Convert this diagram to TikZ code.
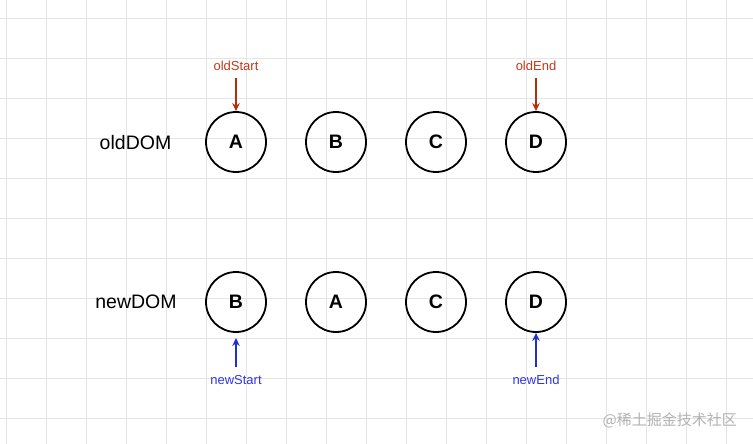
\documentclass[tikz,border=0pt]{standalone}
\usepackage{fontspec}
\setmainfont{Liberation Sans}
\newfontfamily\cjkfont{Noto Sans CJK SC}
\usetikzlibrary{arrows.meta}
\definecolor{gridc}{HTML}{E5E5E5}
\definecolor{redarrow}{HTML}{B0300E}
\definecolor{redtext}{HTML}{C0391B}
\definecolor{bluearrow}{HTML}{2030D0}
\definecolor{bluetext}{HTML}{3535E0}
\tikzset{
  gridline/.style={draw=gridc, line width=0.8pt},
  domnode/.style={circle, draw=black, line width=1.8pt, minimum size=60pt, inner sep=0pt,
    font=\fontsize{19.5}{20}\selectfont\bfseries},
  rowlabel/.style={font=\fontsize{19.5}{20}\selectfont, inner sep=0pt},
  ptrlabel/.style={font=\fontsize{13}{14}\selectfont, inner sep=0pt},
  redptr/.style={draw=redarrow, line width=1.8pt, -{Stealth[length=8pt,width=7.5pt]}},
  blueptr/.style={draw=bluearrow, line width=1.8pt, -{Stealth[length=8pt,width=7.5pt]}},
}
\begin{document}
\begin{tikzpicture}[x=1pt,y=-1pt]
\useasboundingbox (0,0) rectangle (753,444);
\fill[white] (0,0) rectangle (753,444);
\foreach \x in {6.5,46.5,...,746.5} \draw[gridline] (\x,0) -- (\x,444);
\foreach \y in {18,58,...,418} \draw[gridline] (0,\y) -- (753,\y);

\node[rowlabel] (oldlbl) at (135.5,143) {oldDOM};
\node[rowlabel] (newlbl) at (136,302) {newDOM};

\node[domnode] (oA) at (236,142) {A};
\node[domnode] (oB) at (336,142) {B};
\node[domnode] (oC) at (436,142) {C};
\node[domnode] (oD) at (536,142) {D};

\node[domnode] (nB) at (236,302) {B};
\node[domnode] (nA) at (336,302) {A};
\node[domnode] (nC) at (436,302) {C};
\node[domnode] (nD) at (536,302) {D};

\node[ptrlabel, text=redtext] (oldStart) at (236,66) {oldStart};
\node[ptrlabel, text=redtext] (oldEnd) at (536,66) {oldEnd};
\node[ptrlabel, text=bluetext] (newStart) at (236,380) {newStart};
\node[ptrlabel, text=bluetext] (newEnd) at (536,380) {newEnd};

\coordinate (osT) at (236,78);
\coordinate (oeT) at (536,78);
\coordinate (nsT) at (236,367);
\coordinate (neT) at (536,367);
\coordinate (nsH) at (236,338);

\draw[redptr] (osT) -- (oA.north);
\draw[redptr] (oeT) -- (oD.north);
\draw[blueptr] (nsT) -- (nsH);
\draw[blueptr] (neT) -- (nD.south);

\node[font=\cjkfont\fontsize{15}{16}\selectfont, text=black!30, inner sep=0pt, anchor=east] (wm) at (737,420) {@稀土掘金技术社区};
\end{tikzpicture}
\end{document}
